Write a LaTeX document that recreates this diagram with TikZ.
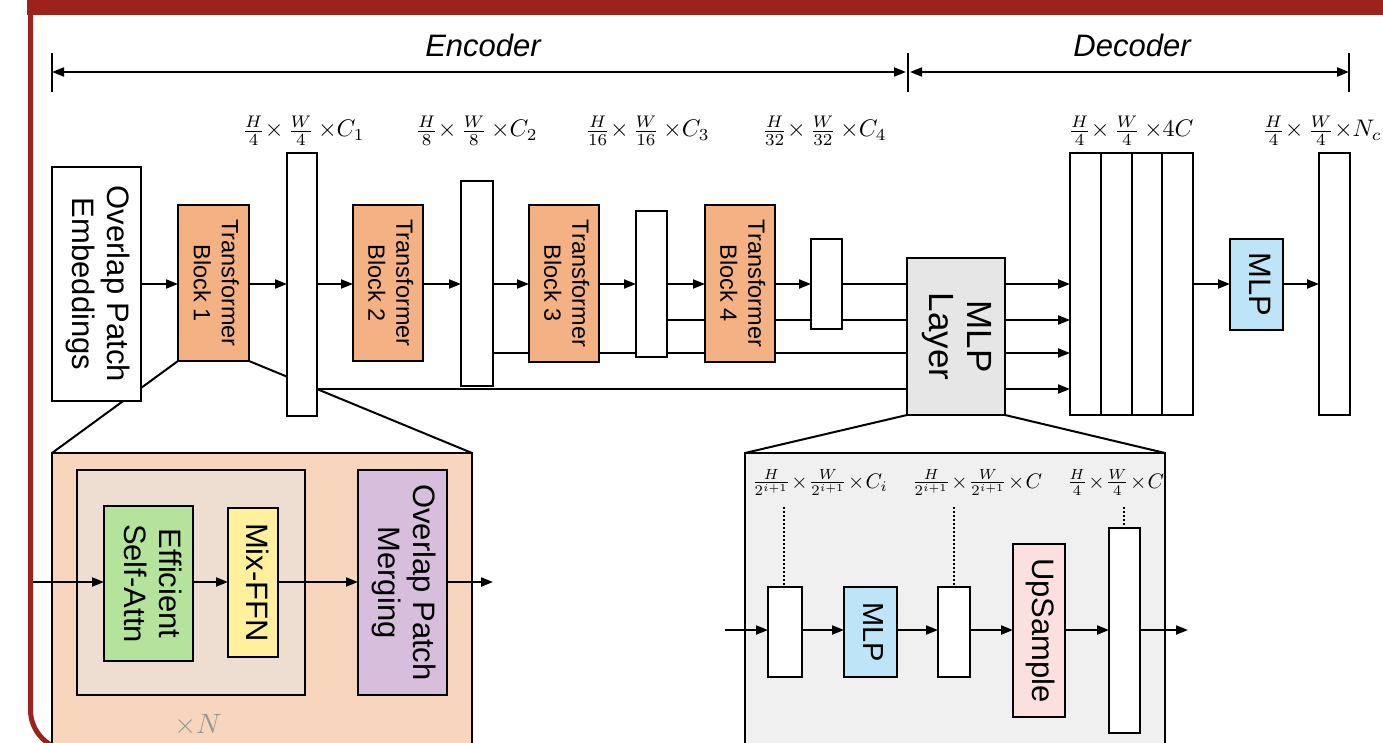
\documentclass[tikz,border=0pt]{standalone}
\usepackage{fontspec}
\setmainfont{Liberation Sans}
\usepackage{graphicx}
\usetikzlibrary{arrows.meta,calc}
\pgfdeclarelayer{background}
\pgfsetlayers{background,main}
\definecolor{framered}{RGB}{158,34,28}
\definecolor{tborange}{RGB}{244,177,131}
\definecolor{encbg}{RGB}{248,214,190}
\definecolor{innerbg}{RGB}{238,222,210}
\definecolor{esagreen}{RGB}{180,227,156}
\definecolor{ffnyellow}{RGB}{255,240,158}
\definecolor{opmpurple}{RGB}{214,190,220}
\definecolor{mlpgray}{RGB}{230,230,230}
\definecolor{decbg}{RGB}{240,240,240}
\definecolor{mlpblue}{RGB}{190,228,247}
\definecolor{uppink}{RGB}{252,224,224}
\definecolor{ngray}{RGB}{150,150,150}
\newcommand\bx[7]{\node[#6, minimum width={#4-#2}, minimum height={#5-#3}] (#1) at ({(#2+#4)/2},{(#3+#5)/2}) {#7};}
\newcommand\rt[1]{\rotatebox{-90}{\begin{tabular}{@{}c@{}}#1\end{tabular}}}
\newcommand\mathlabA[1]{\scalebox{2.4}{$#1$}}
\newcommand\mathlabB[1]{\scalebox{2.1}{$#1$}}
\newcommand\tx{\!\times\!}
\begin{document}
\begin{tikzpicture}[x=1pt,y=-1pt,
  box/.style={draw=black, line width=2pt, inner sep=0pt, outer sep=0pt, fill=white},
  tbk/.style={box, fill=tborange, font=\fontsize{23.5}{28}\selectfont},
  big/.style={font=\fontsize{31}{35}\selectfont},
  arr/.style={line width=2pt, -{Triangle[length=12pt,width=9pt]}},
  ln/.style={line width=2pt},
  dimarr/.style={line width=2pt, {Triangle[length=12pt,width=9pt]}-{Triangle[length=12pt,width=9pt]}},
  tickline/.style={line width=2.5pt},
  mlab/.style={anchor=base west, inner sep=0pt},
  dotl/.style={line width=2pt, dash pattern=on 2pt off 2pt},
  frameline/.style={draw=framered, line width=5pt}
]
\useasboundingbox (0,0) rectangle (1383,743);
\clip (0,0) rectangle (1383,743);

% frame
\fill[framered] (27,0) rectangle (1383,15);
\draw[frameline, rounded corners=40pt] (30.5,0) -- (30.5,750) -- (600,750);

% dimension line
\coordinate (dl) at (52,72);
\coordinate (dm) at (908,72);
\coordinate (dr) at (1349,72);
\draw[tickline] ($(dl)+(0,-19)$) -- ($(dl)+(0,20)$);
\draw[tickline] ($(dm)+(0,-19)$) -- ($(dm)+(0,20)$);
\draw[tickline] ($(dr)+(0,-19)$) -- ($(dr)+(0,20)$);
\draw[dimarr] (dl) -- ($(dm)+(-2,0)$);
\draw[dimarr] ($(dm)+(2,0)$) -- (dr);
\node[anchor=base, inner sep=0pt, font=\fontsize{31}{35}\selectfont\itshape] (enc) at (483,57) {Encoder};
\node[anchor=base, inner sep=0pt, font=\fontsize{31}{35}\selectfont\itshape] (dec) at (1132,57) {Decoder};

% shape labels
\node[mlab] (l1) at (242,137) {\mathlabA{\frac{H}{4}{\times}\,\frac{W}{4}\,{\times}C_1}};
\node[mlab] (l2) at (415,137) {\mathlabA{\frac{H}{8}{\times}\,\frac{W}{8}\,{\times}C_2}};
\node[mlab] (l3) at (585,137) {\mathlabA{\frac{H}{16}{\times}\,\frac{W}{16}\,{\times}C_3}};
\node[mlab] (l4) at (762,137) {\mathlabA{\frac{H}{32}{\times}\,\frac{W}{32}\,{\times}C_4}};
\node[mlab] (l5) at (1068,137) {\mathlabA{\frac{H}{4}{\times}\,\frac{W}{4}\,{\times}4C}};
\node[mlab] (l6) at (1262,137) {\mathlabA{\frac{H}{4}{\times}\,\frac{W}{4}{\times}N_c}};

% bottom expanded boxes
\bx{encb}{52}{453}{472}{770}{box, fill=encbg}{}
\bx{decb}{745}{453}{1165}{770}{box, fill=decbg}{}

% main row nodes
\bx{pe}{52}{167}{141}{401}{box, big}{\rt{Overlap Patch\\Embeddings}}
\bx{tb1}{178}{205}{249}{361}{tbk}{\rt{Transformer\\Block 1}}
\bx{bar1}{287}{153}{317}{416}{box}{}
\bx{tb2}{353}{205}{423}{361}{tbk}{\rt{Transformer\\Block 2}}
\bx{bar2}{461}{181}{493}{386}{box}{}
\bx{tb3}{529}{205}{599}{362}{tbk}{\rt{Transformer\\Block 3}}
\bx{bar3}{636}{211}{667}{357}{box}{}
\bx{tb4}{705}{205}{775}{362}{tbk}{\rt{Transformer\\Block 4}}
\bx{bar4}{811}{239}{842}{329}{box}{}
\bx{mlpl}{907}{258}{1005}{415}{box, fill=mlpgray, font=\fontsize{35}{38}\selectfont}{\rt{MLP\\Layer}}
\bx{stack}{1070}{153}{1193}{415}{box}{}
\foreach \i in {1,2,3}
  \draw[ln] ($(stack.north west)!\i/4!(stack.north east)$) -- ($(stack.south west)!\i/4!(stack.south east)$);
\bx{mlpd}{1230}{239}{1283}{330}{box, fill=mlpblue, font=\fontsize{31}{35}\selectfont}{\rt{MLP}}
\bx{outb}{1319}{153}{1350}{415}{box}{}

% encoder block detail
\bx{inner}{77}{470}{305}{695}{box, fill=innerbg}{}
\bx{esa}{104}{506}{193}{661}{box, fill=esagreen, big}{\rt{Efficient\\Self-Attn}}
\bx{ffn}{228}{508}{278}{657}{box, fill=ffnyellow, big}{\rt{Mix-FFN}}
\bx{opm}{358}{470}{447}{695}{box, fill=opmpurple, big}{\rt{Overlap Patch\\Merging}}
\node[anchor=base, inner sep=0pt, text=ngray] (xn) at (198,733) {\scalebox{2.8}{$\times N$}};

% decoder block detail
\bx{da}{768}{587}{802}{677}{box}{}
\bx{dmlp}{844}{587}{897}{677}{box, fill=mlpblue, font=\fontsize{29}{33}\selectfont}{\rt{MLP}}
\bx{db}{938}{587}{970}{677}{box}{}
\bx{up}{1013}{544}{1065}{717}{box, fill=uppink, big}{\rt{UpSample}}
\bx{dc}{1109}{528}{1140}{733}{box}{}
\node[mlab] (s1) at (752,488) {\mathlabB{\frac{H}{2^{i+1}}\tx\frac{W}{2^{i+1}}\tx C_i}};
\node[mlab] (s2) at (912,488) {\mathlabB{\frac{H}{2^{i+1}}\tx\frac{W}{2^{i+1}}\tx C}};
\node[mlab] (s3) at (1067,488) {\mathlabB{\frac{H}{4}\tx\frac{W}{4}\tx C}};
\draw[dotl] (784,507) -- (da.north -| 784,0);
\draw[dotl] (954,507) -- (db.north -| 954,0);
\draw[dotl] (1124,507) -- (dc.north -| 1124,0);

% row coordinates
\coordinate (ra) at (0,284);
\coordinate (rb) at (0,320);
\coordinate (rc) at (0,353);
\coordinate (rd) at (0,389);

\begin{pgfonlayer}{background}
  \draw[ln] (tb1.south west) -- (encb.north west);
  \draw[ln] (tb1.south east) -- (encb.north east);
  \draw[ln] (mlpl.south west) -- (decb.north west);
  \draw[ln] (mlpl.south east) -- (decb.north east);
  \draw[ln] (bar4.east |- ra) -- (mlpl.west |- ra);
  \draw[ln] (bar3.east |- rb) -- (mlpl.west |- rb);
  \draw[ln] (bar2.east |- rc) -- (mlpl.west |- rc);
  \draw[ln] (bar1.east |- rd) -- (mlpl.west |- rd);
\end{pgfonlayer}

% main row arrows
\draw[arr] (pe.east |- ra) -- (tb1.west |- ra);
\draw[arr] (tb1.east |- ra) -- (bar1.west |- ra);
\draw[arr] (bar1.east |- ra) -- (tb2.west |- ra);
\draw[arr] (tb2.east |- ra) -- (bar2.west |- ra);
\draw[arr] (bar2.east |- ra) -- (tb3.west |- ra);
\draw[arr] (tb3.east |- ra) -- (bar3.west |- ra);
\draw[arr] (bar3.east |- ra) -- (tb4.west |- ra);
\draw[arr] (tb4.east |- ra) -- (bar4.west |- ra);
\foreach \r in {ra,rb,rc,rd}
  \draw[arr] (mlpl.east |- \r) -- (stack.west |- \r);
\draw[arr] (stack.east |- ra) -- (mlpd.west |- ra);
\draw[arr] (mlpd.east |- ra) -- (outb.west |- ra);

% encoder detail arrows
\coordinate (ein) at (33,582);
\coordinate (eout) at (493,582);
\draw[arr] (ein) -- (esa.west |- ein);
\draw[arr] (esa.east |- ein) -- (ffn.west |- ein);
\draw[arr] (ffn.east |- ein) -- (opm.west |- ein);
\draw[arr] (opm.east |- ein) -- (eout);

% decoder detail arrows
\coordinate (din) at (725,630);
\coordinate (dout) at (1188,630);
\draw[arr] (din) -- (da.west |- din);
\draw[arr] (da.east |- din) -- (dmlp.west |- din);
\draw[arr] (dmlp.east |- din) -- (db.west |- din);
\draw[arr] (db.east |- din) -- (up.west |- din);
\draw[arr] (up.east |- din) -- (dc.west |- din);
\draw[arr] (dc.east |- din) -- (dout);
\end{tikzpicture}
\end{document}
